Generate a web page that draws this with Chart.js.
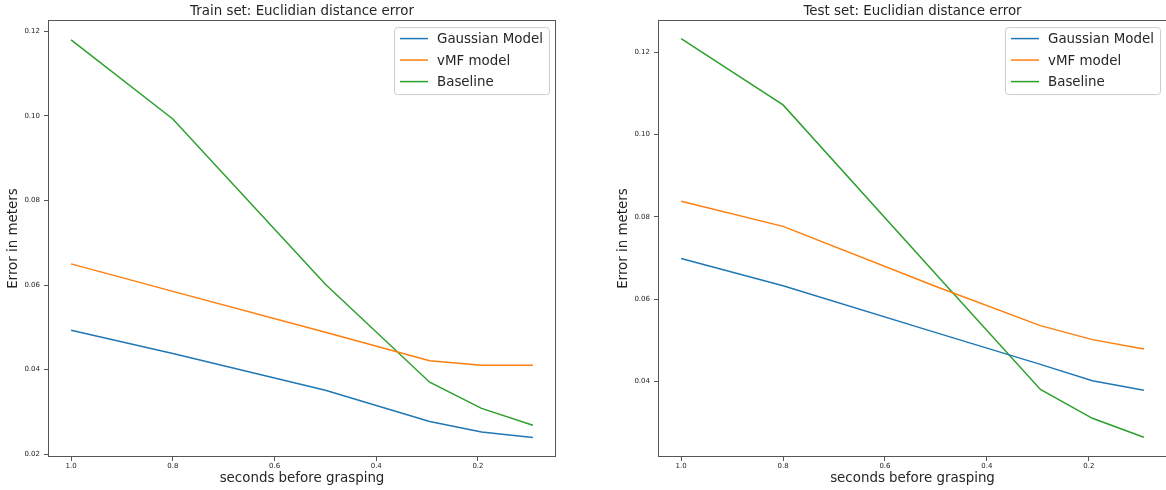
<!DOCTYPE html>
<html>
<head>
<meta charset="utf-8">
<script src="https://cdn.jsdelivr.net/npm/chart.js@4"></script>
<style>
  html, body { margin: 0; padding: 0; background: #fff; }
  #wrap { position: relative; width: 1166px; height: 490px; overflow: hidden; }
  canvas { position: absolute; top: 0; }
</style>
</head>
<body>
<div id="wrap">
  <canvas id="trainChart" width="583" height="490" style="left:0"></canvas>
  <canvas id="testChart" width="600" height="490" style="left:583px"></canvas>
</div>
<script>
// seconds before grasping (x values)
const seconds = [1.0, 0.8, 0.5, 0.295, 0.193, 0.092];

// train set
const trainGaussian = [0.0493, 0.0438, 0.0351, 0.0277, 0.0252, 0.0239];
const trainVmf = [0.0650, 0.0585, 0.0488, 0.0421, 0.0410, 0.0410];
const trainBaseline = [0.1180, 0.0993, 0.0602, 0.0370, 0.0308, 0.0268];

// test set
const testGaussian = [0.0699, 0.0633, 0.0519, 0.0442, 0.0402, 0.0379];
const testVmf = [0.0838, 0.0777, 0.0631, 0.0536, 0.0502, 0.0479];
const testBaseline = [0.1233, 0.1072, 0.0661, 0.0381, 0.0311, 0.0265];

const seriesNames = ['Gaussian Model', 'vMF model', 'Baseline'];
const xTicks = [1.0, 0.8, 0.6, 0.4, 0.2];
const trainYTicks = [0.02, 0.04, 0.06, 0.08, 0.10, 0.12];
const testYTicks = [0.04, 0.06, 0.08, 0.10, 0.12];

const colors = ['#1f77b4', '#ff7f0e', '#2ca02c'];
const FONT = 'DejaVu Sans';
const TEXT = '#262626';

// matplotlib-like frame around the axes
const framePlugin = {
    id: 'frame',
    afterDraw(chart) {
        const {ctx, chartArea} = chart;
        ctx.save();
        ctx.strokeStyle = '#555';
        ctx.lineWidth = 1;
        ctx.strokeRect(Math.round(chartArea.left) + 0.5, Math.round(chartArea.top) + 0.5,
            Math.round(chartArea.right - chartArea.left) - 1, Math.round(chartArea.bottom - chartArea.top) - 1);
        ctx.restore();
    }
};

// legend box in upper right corner, inside the axes
const boxLegend = {
    id: 'boxLegend',
    afterDraw(chart) {
        const {ctx, chartArea} = chart;
        const w = 155, h = 67;
        const left = chartArea.right - 7 - w;
        const top = chartArea.top + 7;
        ctx.save();
        ctx.beginPath();
        ctx.roundRect(left + 0.5, top + 0.5, w, h, 3);
        ctx.fillStyle = 'rgba(255,255,255,0.8)';
        ctx.fill();
        ctx.strokeStyle = '#cccccc';
        ctx.lineWidth = 1;
        ctx.stroke();
        ctx.font = '13.4px "' + FONT + '"';
        ctx.textBaseline = 'middle';
        chart.data.datasets.forEach((ds, i) => {
            const y = top + 11.5 + i * 21.5;
            ctx.strokeStyle = ds.borderColor;
            ctx.lineWidth = 1.5;
            ctx.beginPath();
            ctx.moveTo(left + 6, y);
            ctx.lineTo(left + 34, y);
            ctx.stroke();
            ctx.fillStyle = TEXT;
            ctx.fillText(ds.label, left + 43, y + 1);
        });
        ctx.restore();
    }
};

function makeDatasets(values) {
    return values.map((vals, i) => ({
        label: seriesNames[i],
        data: seconds.map((s, j) => ({x: s, y: vals[j]})),
        borderColor: colors[i],
        backgroundColor: colors[i],
        borderWidth: 1.5,
        pointRadius: 0,
        tension: 0,
        fill: false
    }));
}

function makeChart(canvasId, title, values, yTicks, yMin, yMax, padding) {
    const ctx = document.getElementById(canvasId).getContext('2d');
    return new Chart(ctx, {
        type: 'line',
        data: {datasets: makeDatasets(values)},
        options: {
            responsive: false,
            animation: false,
            devicePixelRatio: 1,
            layout: {padding: padding},
            plugins: {
                legend: {display: false},
                tooltip: {enabled: false},
                title: {
                    display: true,
                    text: title,
                    fullSize: false,
                    color: TEXT,
                    font: {family: FONT, size: 13.4, weight: 'normal'},
                    padding: {top: 3, bottom: 1}
                }
            },
            scales: {
                x: {
                    type: 'linear',
                    reverse: true,
                    min: 0.0466,
                    max: 1.0454,
                    afterBuildTicks: (scale) => {
                        scale.ticks = xTicks.map(v => ({value: v}));
                    },
                    afterFit: (scale) => { scale.height = 33; },
                    grid: {drawOnChartArea: false, drawTicks: true, tickLength: 4, tickColor: '#555'},
                    border: {display: false},
                    ticks: {
                        color: TEXT,
                        padding: 1,
                        maxRotation: 0,
                        font: {family: FONT, size: 7},
                        callback: (v) => Number(v).toFixed(1)
                    },
                    title: {
                        display: true,
                        text: 'seconds before grasping',
                        color: TEXT,
                        font: {family: FONT, size: 13.4},
                        padding: {top: 0, bottom: 3.5}
                    }
                },
                y: {
                    type: 'linear',
                    min: yMin,
                    max: yMax,
                    afterBuildTicks: (scale) => {
                        scale.ticks = yTicks.map(v => ({value: v}));
                    },
                    afterFit: (scale) => { scale.width = 48; },
                    grid: {drawOnChartArea: false, drawTicks: true, tickLength: 4, tickColor: '#555'},
                    border: {display: false},
                    ticks: {
                        color: TEXT,
                        padding: 4,
                        font: {family: FONT, size: 7},
                        callback: (v) => Number(v).toFixed(2)
                    },
                    title: {
                        display: true,
                        text: 'Error in meters',
                        color: TEXT,
                        font: {family: FONT, size: 13.4},
                        padding: {top: 5, bottom: 0}
                    }
                }
            }
        },
        plugins: [framePlugin, boxLegend]
    });
}

makeChart('trainChart', 'Train set: Euclidian distance error',
    [trainGaussian, trainVmf, trainBaseline], trainYTicks, 0.0193, 0.1227,
    {left: 0, right: 27, top: 0, bottom: 0});

makeChart('testChart', 'Test set: Euclidian distance error',
    [testGaussian, testVmf, testBaseline], testYTicks, 0.0217, 0.1278,
    {left: 27, right: 16, top: 0, bottom: 0});
</script>
</body>
</html>
